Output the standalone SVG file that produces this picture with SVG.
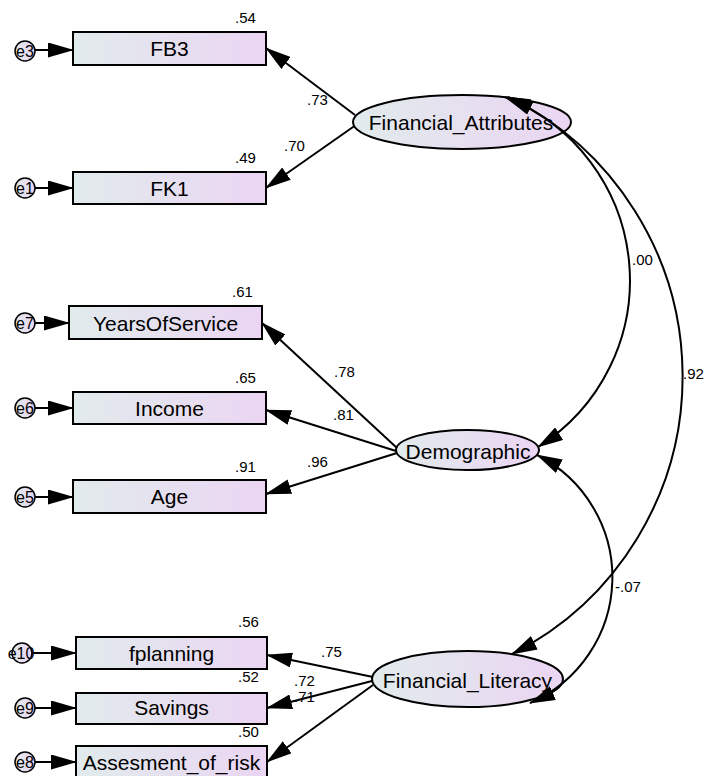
<svg xmlns="http://www.w3.org/2000/svg" width="704" height="776" viewBox="0 0 704 776">
<defs>
<linearGradient id="g" x1="0" y1="0" x2="1" y2="0">
<stop offset="0" stop-color="#e1ebec"/>
<stop offset="1" stop-color="#ebd5f3"/>
</linearGradient>
<marker id="ah" markerUnits="userSpaceOnUse" viewBox="0 0 26 15" markerWidth="26" markerHeight="15" refX="25" refY="7.5" orient="auto-start-reverse">
<path d="M0,0 L26,7.5 L0,15 z" fill="#000"/>
</marker>
<style>
.box{fill:url(#g);stroke:#000;stroke-width:2}
.err{fill:url(#g);stroke:#000;stroke-width:1.5}
.name{font-family:"Liberation Sans",Arial,sans-serif;font-size:21px;text-anchor:middle;fill:#000}
.et{font-family:"Liberation Sans",Arial,sans-serif;font-size:16px;text-anchor:middle;fill:#000}
.num{font-family:"Liberation Sans",Arial,sans-serif;font-size:15px;fill:#000}
.c{fill:none;stroke:#000;stroke-width:2}
.s{marker-end:url(#ah)}
.d{marker-start:url(#ah);marker-end:url(#ah)}
</style>
</defs>
<rect width="704" height="776" fill="#fff"/>

<g id="nodes">
<g id="FB3"><rect class="box" x="73" y="32" width="193" height="33"/><text class="name" x="169.5" y="56">FB3</text><text class="num" x="235" y="23">.54</text></g>
<g id="FK1"><rect class="box" x="73" y="172" width="193" height="32"/><text class="name" x="169.5" y="195.5">FK1</text><text class="num" x="235" y="163">.49</text></g>
<g id="YearsOfService"><rect class="box" x="69" y="306" width="193" height="33"/><text class="name" x="165.5" y="330.5">YearsOfService</text><text class="num" x="232" y="297">.61</text></g>
<g id="Income"><rect class="box" x="73" y="392" width="193" height="32"/><text class="name" x="169.5" y="415.5">Income</text><text class="num" x="235" y="383">.65</text></g>
<g id="Age"><rect class="box" x="73" y="480" width="193" height="33"/><text class="name" x="169.5" y="504">Age</text><text class="num" x="235" y="472">.91</text></g>
<g id="fplanning"><rect class="box" x="76" y="637" width="191" height="32"/><text class="name" x="171.5" y="661">fplanning</text><text class="num" x="238" y="627">.56</text></g>
<g id="Savings"><rect class="box" x="76" y="693" width="191" height="31"/><text class="name" x="171.5" y="715">Savings</text><text class="num" x="238" y="682">.52</text></g>
<g id="Assesment_of_risk"><rect class="box" x="76" y="746" width="191" height="33"/><text class="name" x="171.5" y="770">Assesment_of_risk</text><text class="num" x="238" y="737">.50</text></g>

<g id="Financial_Attributes"><ellipse class="box" cx="462" cy="122" rx="109" ry="27"/><text class="name" x="461" y="129.5">Financial_Attributes</text></g>
<g id="Demographic"><ellipse class="box" cx="467.5" cy="450" rx="71.5" ry="20"/><text class="name" x="468" y="459">Demographic</text></g>
<g id="Financial_Literacy"><ellipse class="box" cx="467.5" cy="679" rx="95.5" ry="28"/><text class="name" x="467.5" y="687.5">Financial_Literacy</text></g>

<g id="e3"><circle class="err" cx="25" cy="51" r="10"/><text class="et" x="25" y="56.5">e3</text></g>
<g id="e1"><circle class="err" cx="25" cy="188" r="10"/><text class="et" x="25" y="193.5">e1</text></g>
<g id="e7"><circle class="err" cx="25" cy="323" r="10"/><text class="et" x="25" y="328.5">e7</text></g>
<g id="e6"><circle class="err" cx="25" cy="408" r="10"/><text class="et" x="25" y="413.5">e6</text></g>
<g id="e5"><circle class="err" cx="25" cy="497" r="10"/><text class="et" x="25" y="502.5">e5</text></g>
<g id="e10"><circle class="err" cx="22" cy="653" r="10"/><text class="et" x="21" y="658.5">e10</text></g>
<g id="e9"><circle class="err" cx="25" cy="708" r="10"/><text class="et" x="25" y="713.5">e9</text></g>
<g id="e8"><circle class="err" cx="25" cy="762" r="10"/><text class="et" x="25" y="767.5">e8</text></g>
</g>

<g id="connectors">
<line class="c s" x1="35" y1="50" x2="73" y2="50"/>
<line class="c s" x1="35" y1="188" x2="73" y2="188"/>
<line class="c s" x1="35" y1="323" x2="69" y2="323"/>
<line class="c s" x1="35" y1="408" x2="73" y2="408"/>
<line class="c s" x1="35" y1="497" x2="73" y2="497"/>
<line class="c s" x1="32" y1="653" x2="76" y2="653"/>
<line class="c s" x1="35" y1="708" x2="76" y2="708"/>
<line class="c s" x1="35" y1="762" x2="76" y2="762"/>

<line class="c s" x1="355" y1="115" x2="266" y2="48"/>
<line class="c s" x1="354.1" y1="126.2" x2="266" y2="188"/>
<line class="c s" x1="397" y1="448" x2="262" y2="323"/>
<line class="c s" x1="396" y1="451" x2="266" y2="410"/>
<line class="c s" x1="397" y1="453" x2="266" y2="494"/>
<line class="c s" x1="373" y1="677" x2="267" y2="655"/>
<line class="c s" x1="372" y1="681" x2="267" y2="708"/>
<line class="c s" x1="373" y1="685" x2="267" y2="762"/>

<path class="c d" d="M505,97 A197,197 0 0 1 538,447"/>
<path class="c d" d="M508,97 A311,311 0 0 1 512,654"/>
<path class="c d" d="M537,455 A137,137 0 0 1 530,703"/>

<text class="num" x="307" y="105">.73</text>
<text class="num" x="284" y="151">.70</text>
<text class="num" x="334" y="377">.78</text>
<text class="num" x="333" y="420">.81</text>
<text class="num" x="307" y="467">.96</text>
<text class="num" x="632" y="265">.00</text>
<text class="num" x="683" y="379">.92</text>
<text class="num" x="615" y="592">-.07</text>
<text class="num" x="321" y="657">.75</text>
<text class="num" x="294" y="686">.72</text>
<text class="num" x="294" y="702">.71</text>
</g>
</svg>
